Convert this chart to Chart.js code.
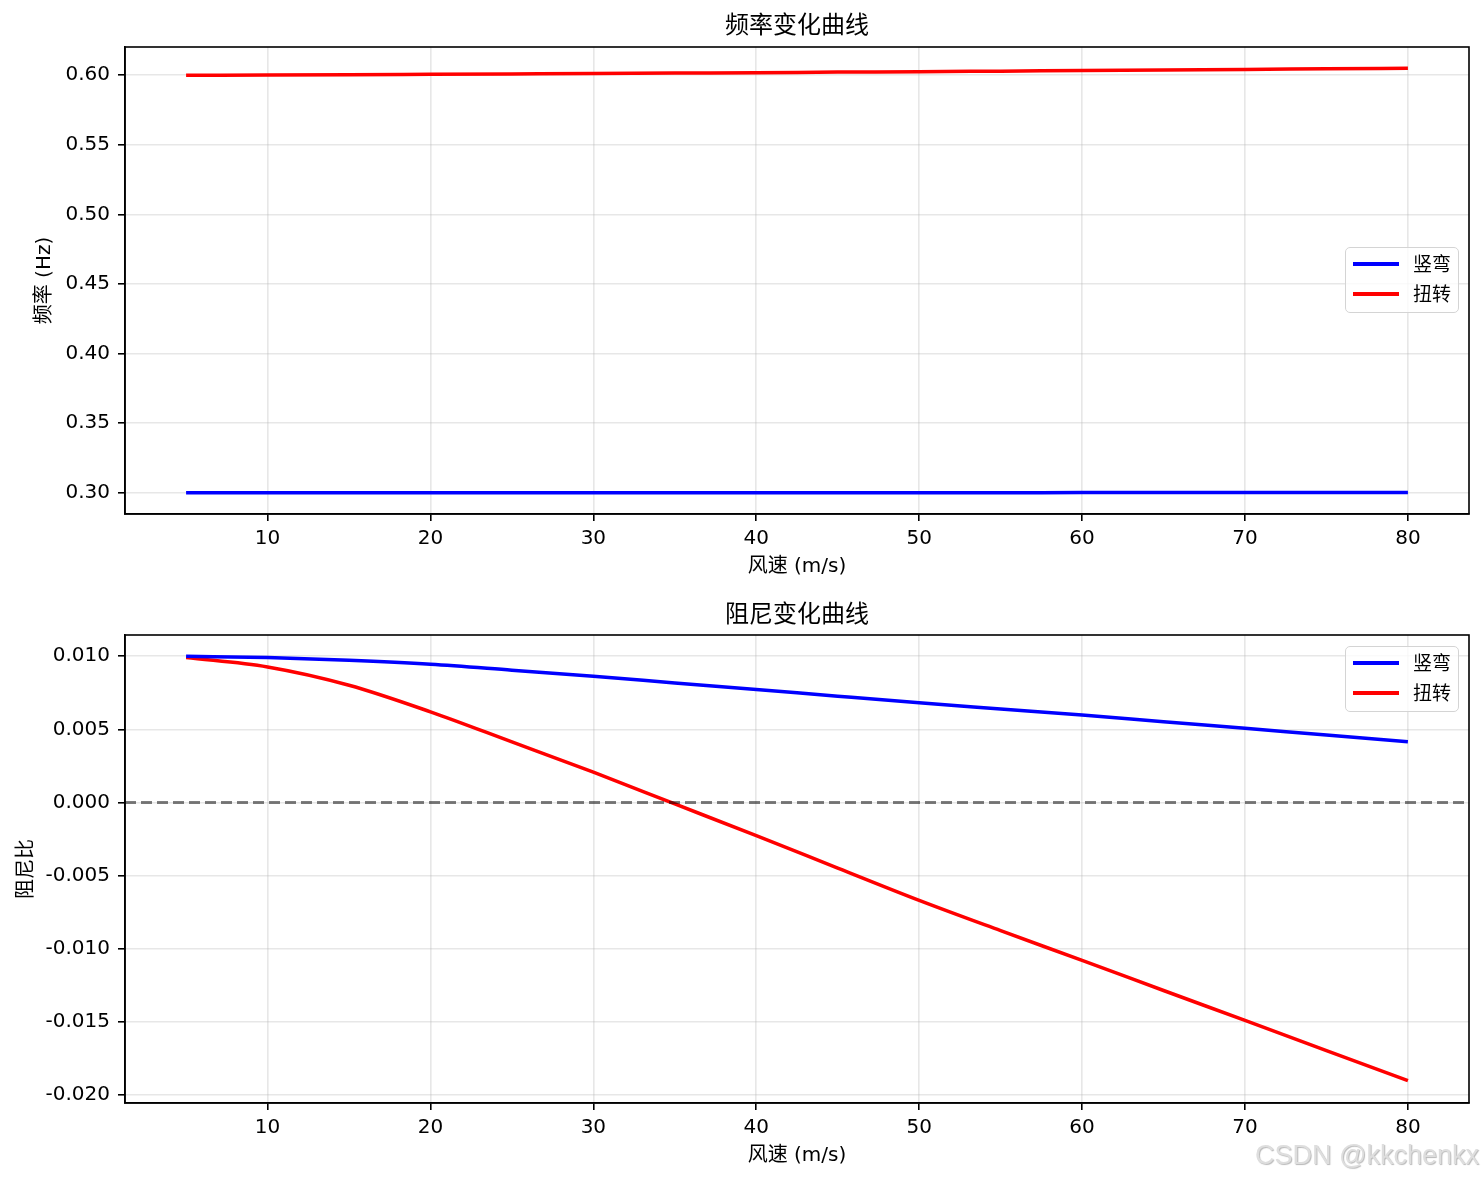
<!doctype html>
<html lang="zh">
<head>
<meta charset="utf-8">
<title>频率与阻尼随风速变化</title>
<script src="https://cdn.jsdelivr.net/npm/chart.js"></script>
<style>
  * { margin: 0; padding: 0; }
  body {
    width: 1484px; height: 1181px; background: #fff;
    position: relative; overflow: hidden;
    font-family: "DejaVu Sans", "Noto Sans CJK SC", sans-serif;
  }
  canvas { position: absolute; left: 0; }
  #freqChart { top: 0; }
  #dampChart { top: 590px; }
  .legend {
    position: absolute; right: 25px;
    background: rgba(255, 255, 255, 0.8);
    border: 1.5px solid #d4d4d4; border-radius: 5px;
    padding: 1px 7px 3px 7px; font-size: 19px; color: #000;
  }
  .legend div { height: 30px; line-height: 30px; display: flex; align-items: center; }
  .legend span.sw { display: inline-block; width: 46px; height: 3.5px; margin-right: 14px; }
  .mark {
    position: absolute; left: 1255px; top: 1140px;
    font: 27px "Liberation Sans", Arial, sans-serif; line-height: 30px;
    color: #dedede; text-shadow: 1px 1px 1px rgba(0, 0, 0, 0.28);
    white-space: nowrap;
  }
</style>
</head>
<body>
<canvas id="freqChart" width="1484" height="590"></canvas>
<canvas id="dampChart" width="1484" height="591"></canvas>

<div class="legend" style="top:247px">
  <div><span class="sw" style="background:#0000ff"></span>竖弯</div>
  <div><span class="sw" style="background:#ff0000"></span>扭转</div>
</div>
<div class="legend" style="top:646px">
  <div><span class="sw" style="background:#0000ff"></span>竖弯</div>
  <div><span class="sw" style="background:#ff0000"></span>扭转</div>
</div>
<div class="mark">CSDN @kkchenkx</div>

<script>
  // data
  const speeds = [5, 10, 15, 20, 25, 30, 35, 40, 45, 50, 55, 60, 65, 70, 75, 80]

  const freqBend = [0.30000, 0.30000, 0.30001, 0.30002, 0.30003, 0.30004, 0.30005, 0.30006,
                    0.30007, 0.30008, 0.30010, 0.30011, 0.30012, 0.30014, 0.30015, 0.30017]
  const freqTors = [0.6000, 0.6001, 0.6003, 0.6006, 0.6009, 0.6012, 0.6015, 0.6018,
                    0.6022, 0.6025, 0.6029, 0.6033, 0.6037, 0.6041, 0.6046, 0.6050]

  const dampBend = [0.01000, 0.00991, 0.00972, 0.00945, 0.00905, 0.00864, 0.00818, 0.00773,
                    0.00727, 0.00682, 0.00640, 0.00598, 0.00552, 0.00507, 0.00461, 0.00416]
  const dampTors = [0.00992, 0.00927, 0.00802, 0.00620, 0.00414, 0.00207, -0.00010, -0.00227,
                    -0.00449, -0.00670, -0.00877, -0.01080, -0.01286, -0.01491, -0.01697, -0.01903]

  const xTicks = [10, 20, 30, 40, 50, 60, 70, 80]
  const freqTicks = [0.30, 0.35, 0.40, 0.45, 0.50, 0.55, 0.60]
  const dampTicks = [-0.020, -0.015, -0.010, -0.005, 0.000, 0.005, 0.010]

  const seriesNames = ['竖弯', '扭转']

  Chart.defaults.font.family = '"DejaVu Sans", "Noto Sans CJK SC", sans-serif'
  Chart.defaults.color = '#000'

  const gridColor = 'rgba(176,176,176,0.3)'

  function pts(ys) {
    return speeds.map((x, i) => ({ x: x, y: ys[i] }))
  }

  // black frame round the plot area
  const framePlugin = {
    id: 'frame',
    afterDraw(chart) {
      const a = chart.chartArea, ctx = chart.ctx
      ctx.save()
      ctx.strokeStyle = '#000'
      ctx.lineWidth = 1.6
      ctx.strokeRect(a.left, a.top, a.right - a.left, a.bottom - a.top)
      ctx.restore()
    }
  }

  // dashed line at y = 0
  const zeroPlugin = {
    id: 'zeroLine',
    afterDatasetsDraw(chart) {
      const a = chart.chartArea, ctx = chart.ctx
      const y = chart.scales.y.getPixelForValue(0)
      ctx.save()
      ctx.strokeStyle = 'rgba(0,0,0,0.5)'
      ctx.lineWidth = 3
      ctx.setLineDash([11, 5])
      ctx.beginPath()
      ctx.moveTo(a.left, y)
      ctx.lineTo(a.right, y)
      ctx.stroke()
      ctx.restore()
    }
  }

  function xAxis(h, padBottom) {
    return {
      type: 'linear', min: 1.25, max: 83.75,
      afterBuildTicks: s => { s.ticks = xTicks.map(v => ({ value: v })) },
      ticks: { font: { size: 20 }, padding: 6, maxRotation: 0, callback: v => String(v) },
      grid: { color: gridColor, lineWidth: 1.6, tickColor: '#000', tickLength: 7, tickWidth: 1.6 },
      border: { color: '#000', width: 1.6 },
      title: { display: true, text: '风速 (m/s)', font: { size: 20 }, padding: { top: 0, bottom: padBottom } },
      afterFit: s => { s.height = h }
    }
  }

  function yAxis(min, max, ticks, digits, label, padTop) {
    return {
      type: 'linear', min: min, max: max,
      afterBuildTicks: s => { s.ticks = ticks.map(v => ({ value: v })) },
      ticks: { font: { size: 20 }, padding: 8, callback: v => v.toFixed(digits) },
      grid: { color: gridColor, lineWidth: 1.6, tickColor: '#000', tickLength: 7, tickWidth: 1.6 },
      border: { color: '#000', width: 1.6 },
      title: { display: true, text: label, font: { size: 20 }, padding: { top: padTop, bottom: 0 } },
      afterFit: s => { s.width = 125 }
    }
  }

  function lineSet(name, ys, color) {
    return {
      label: name, data: pts(ys), borderColor: color, backgroundColor: color,
      borderWidth: 3.5, pointRadius: 0, fill: false, cubicInterpolationMode: 'monotone'
    }
  }

  new Chart(document.getElementById('freqChart'), {
    type: 'line',
    data: { datasets: [lineSet(seriesNames[0], freqBend, '#0000ff'), lineSet(seriesNames[1], freqTors, '#ff0000')] },
    options: {
      responsive: false, animation: false,
      layout: { padding: { left: 0, right: 15, top: 0, bottom: 0 } },
      scales: {
        x: xAxis(76, 11),
        y: yAxis(0.28475, 0.62025, freqTicks, 2, '频率 (Hz)', 33)
      },
      plugins: {
        legend: { display: false },
        tooltip: { enabled: false },
        title: { display: true, text: '频率变化曲线', fullSize: false, font: { size: 24, weight: 'normal' },
                 padding: { top: 12.6, bottom: 5.6 } }
      }
    },
    plugins: [framePlugin]
  })

  new Chart(document.getElementById('dampChart'), {
    type: 'line',
    data: { datasets: [lineSet(seriesNames[0], dampBend, '#0000ff'), lineSet(seriesNames[1], dampTors, '#ff0000')] },
    options: {
      responsive: false, animation: false,
      layout: { padding: { left: 0, right: 15, top: 0, bottom: 0 } },
      scales: {
        x: xAxis(78, 13),
        y: yAxis(-0.020555, 0.011455, dampTicks, 3, '阻尼比', 15)
      },
      plugins: {
        legend: { display: false },
        tooltip: { enabled: false },
        title: { display: true, text: '阻尼变化曲线', fullSize: false, font: { size: 24, weight: 'normal' },
                 padding: { top: 11.6, bottom: 4.6 } }
      }
    },
    plugins: [framePlugin, zeroPlugin]
  })
</script>
</body>
</html>
